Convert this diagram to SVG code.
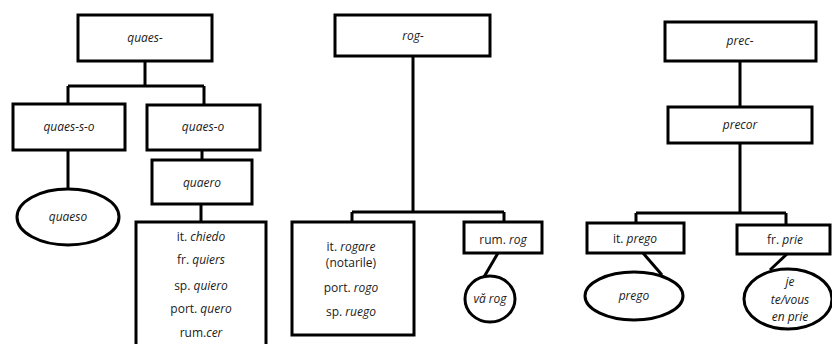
<svg xmlns="http://www.w3.org/2000/svg" width="832" height="344" viewBox="0 0 832 344">
<style>
.b{fill:#fff;stroke:#000;stroke-width:3}
.c{fill:none;stroke:#000;stroke-width:3}
text{font-family:"Open Sans","Liberation Sans",sans-serif;font-size:12px;fill:#1a1a1a;text-anchor:middle}
.i{font-style:italic}
</style>
<rect width="832" height="344" fill="#fff"/>
<g id="connectors">
<path class="c" d="M145 61V86M68 86H204M68 86V104M204 86V105"/>
<path class="c" d="M68 150V190"/>
<path class="c" d="M202 150V160"/>
<path class="c" d="M201 204V222"/>
<path class="c" d="M413 56V212M352 212H504M352 212V222M504 212V222"/>
<path class="c" d="M498 253L484 277"/>
<path class="c" d="M740 61V107"/>
<path class="c" d="M740 143V213M636 213H786M636 213V223M786 213V225"/>
<path class="c" d="M643 253L662 275"/>
<path class="c" d="M787 254L770 270"/>
</g>
<g id="quaes"><rect class="b" x="78" y="15" width="134" height="46"/><text class="i" x="145" y="42">quaes-</text></g>
<g id="quaes-s-o"><rect class="b" x="13" y="104" width="112" height="46"/><text class="i" x="69" y="131">quaes-s-o</text></g>
<g id="quaes-o"><rect class="b" x="147" y="105" width="113" height="45"/><text class="i" x="203" y="131">quaes-o</text></g>
<g id="quaeso"><ellipse class="b" cx="68" cy="217" rx="51" ry="28"/><text class="i" x="68" y="221">quaeso</text></g>
<g id="quaero"><rect class="b" x="152" y="160" width="100" height="44"/><text class="i" x="202" y="187">quaero</text></g>
<g id="chiedo"><rect class="b" x="136" y="222" width="130" height="130"/>
<text x="201" y="241">it. <tspan class="i">chiedo</tspan></text>
<text x="201" y="264">fr. <tspan class="i">quiers</tspan></text>
<text x="201" y="290">sp. <tspan class="i">quiero</tspan></text>
<text x="201" y="313">port. <tspan class="i">quero</tspan></text>
<text x="201" y="337">rum.<tspan class="i">cer</tspan></text></g>
<g id="rog"><rect class="b" x="335" y="15" width="155" height="41"/><text class="i" x="413" y="40">rog-</text></g>
<g id="rogare"><rect class="b" x="292" y="222" width="122" height="113"/>
<text x="351" y="251">it. <tspan class="i">rogare</tspan></text>
<text x="351" y="267">(notarile)</text>
<text x="351" y="292">port. <tspan class="i">rogo</tspan></text>
<text x="351" y="316">sp. <tspan class="i">ruego</tspan></text></g>
<g id="rum-rog"><rect class="b" x="464" y="222" width="78" height="31"/><text x="503" y="244">rum. <tspan class="i">rog</tspan></text></g>
<g id="va-rog"><ellipse class="b" cx="490" cy="299" rx="25" ry="23"/><text class="i" x="490" y="303">vă rog</text></g>
<g id="prec"><rect class="b" x="665" y="22" width="151" height="39"/><text class="i" x="740" y="45">prec-</text></g>
<g id="precor"><rect class="b" x="668" y="107" width="144" height="36"/><text class="i" x="740" y="129">precor</text></g>
<g id="it-prego"><rect class="b" x="587" y="223" width="97" height="30"/><text x="635" y="243">it. <tspan class="i">prego</tspan></text></g>
<g id="fr-prie"><rect class="b" x="737" y="225" width="93" height="29"/><text x="785" y="244">fr. <tspan class="i">prie</tspan></text></g>
<g id="prego"><ellipse class="b" cx="634" cy="296" rx="49" ry="24"/><text class="i" x="634" y="300">prego</text></g>
<g id="je"><ellipse class="b" cx="788" cy="299" rx="44" ry="30"/>
<text class="i" x="790" y="286">je</text>
<text class="i" x="790" y="304">te/vous</text>
<text class="i" x="790" y="321">en prie</text></g>
</svg>
